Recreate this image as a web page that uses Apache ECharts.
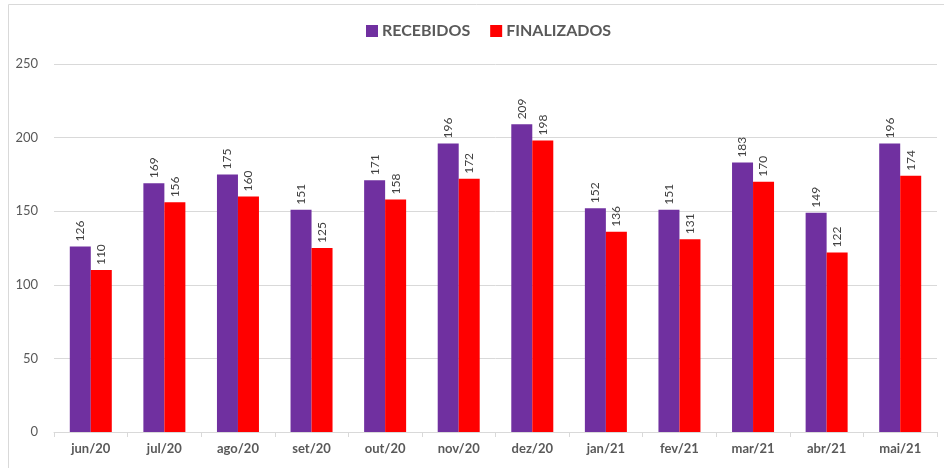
<!DOCTYPE html>
<html>
<head>
<meta charset="utf-8">
<script src="https://cdn.jsdelivr.net/npm/echarts@6/dist/echarts.min.js"></script>
<style>
  html, body { margin: 0; padding: 0; background: #fff; }
  #main { width: 944px; height: 468px; }
</style>
</head>
<body>
<div id="main"></div>
<script>
// dados do gráfico
var meses = ['jun/20', 'jul/20', 'ago/20', 'set/20', 'out/20', 'nov/20', 'dez/20', 'jan/21', 'fev/21', 'mar/21', 'abr/21', 'mai/21'];
var recebidos = [126, 169, 175, 151, 171, 196, 209, 152, 151, 183, 149, 196];
var finalizados = [110, 156, 160, 125, 158, 172, 198, 136, 131, 170, 122, 174];

var fonte = 'Lato, "Open Sans", sans-serif';

var rotulo = {
    show: true,
    position: 'top',
    rotate: 90,
    align: 'left',
    verticalAlign: 'middle',
    distance: 5,
    color: '#404040',
    fontSize: 12,
    fontFamily: fonte
};

var myChart = echarts.init(document.getElementById('main'));
myChart.setOption({
    animation: false,
    graphic: [{
        type: 'rect',
        shape: { x: 8.5, y: 4.5, width: 940, height: 470 },
        style: { fill: 'none', stroke: '#d9d9d9', lineWidth: 1 },
        silent: true
    }],
    legend: {
        top: 18,
        left: 361,
        itemWidth: 12,
        itemHeight: 12,
        itemGap: 20,
        icon: 'rect',
        textStyle: {
            color: '#595959',
            fontSize: 16,
            fontWeight: 'bold',
            fontFamily: fonte,
            padding: [0, 0, 0, -1]
        },
        data: ['RECEBIDOS', 'FINALIZADOS']
    },
    grid: {
        left: 54,
        right: 7,
        top: 64,
        bottom: 36,
        containLabel: false
    },
    xAxis: {
        type: 'category',
        data: meses,
        axisLine: { lineStyle: { color: '#d9d9d9' } },
        axisTick: { show: true, alignWithLabel: false, length: 5, lineStyle: { color: '#d9d9d9' } },
        axisLabel: {
            color: '#595959',
            fontSize: 13,
            fontWeight: 'bold',
            fontFamily: fonte,
            margin: 10
        }
    },
    yAxis: {
        type: 'value',
        min: 0,
        max: 250,
        interval: 50,
        axisLine: { show: false },
        axisTick: { show: false },
        splitLine: { lineStyle: { color: '#d9d9d9' } },
        axisLabel: {
            color: '#595959',
            fontSize: 13,
            fontFamily: fonte,
            margin: 16
        }
    },
    series: [
        {
            name: 'RECEBIDOS',
            type: 'bar',
            barWidth: 21,
            barGap: '0%',
            itemStyle: { color: '#7030A0' },
            label: rotulo,
            data: recebidos
        },
        {
            name: 'FINALIZADOS',
            type: 'bar',
            barWidth: 21,
            barGap: '0%',
            itemStyle: { color: '#FF0000' },
            label: rotulo,
            data: finalizados
        }
    ]
});
</script>
</body>
</html>
